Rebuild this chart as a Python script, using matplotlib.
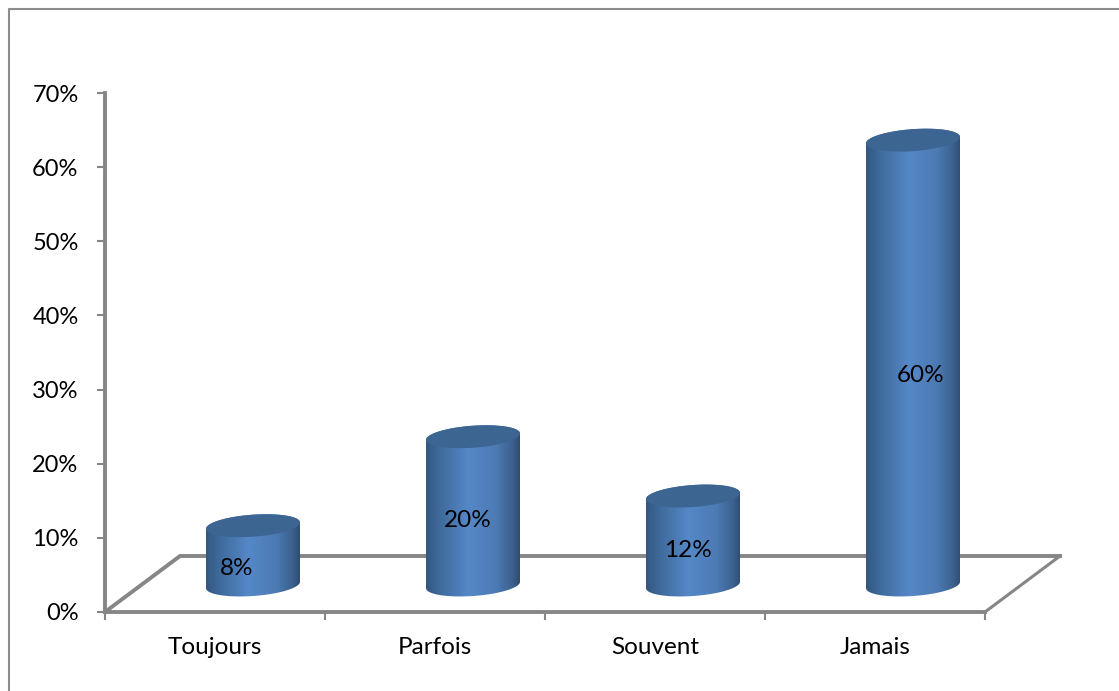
import numpy as np
import matplotlib
matplotlib.use('Agg')
import matplotlib.pyplot as plt
from matplotlib.colors import LinearSegmentedColormap
from matplotlib.lines import Line2D
from matplotlib.patches import Polygon

categories = ['Toujours', 'Parfois', 'Souvent', 'Jamais']
values = [8, 20, 12, 60]
y_ticks = [0, 10, 20, 30, 40, 50, 60, 70]

W, H = 1119, 691
GREY = '#868686'
plt.rcParams['font.family'] = ['Lato', 'DejaVu Sans']

fig = plt.figure(figsize=(W / 100, H / 100), dpi=100)
ax = fig.add_axes([105 / W, 1 - 612 / H, 880 / W, 519 / H])
ax.set_xlim(0, 4)
ax.set_ylim(0, 70)

# size of one pixel in data units
px = 4 / 880
py = 70 / 519

# outer frame, only left and top show up in the picture
fig.add_artist(Line2D([8.5 / W, 8.5 / W, 1], [0, 1 - 8.5 / H, 1 - 8.5 / H], color='#8c8c8c', lw=1.5))

# floor of the 3d box
dx, dy = 75 * px, 56 * py
ax.plot([0, dx, 4 + dx], [0, dy, dy], color=GREY, lw=2.8, clip_on=False, zorder=1,
        solid_joinstyle='miter')
ax.plot([4 + dx, 4], [dy, 0], color=GREY, lw=2.2, clip_on=False, zorder=1)

cmap = LinearSegmentedColormap.from_list('cyl', [
    (0, '#345781'), (0.15, '#3f6b9c'), (0.45, '#5588c8'),
    (0.75, '#4c7ab3'), (0.92, '#3c618e'), (1, '#2f4c70')])
grad = np.linspace(0, 1, 256).reshape(1, -1)

rx, ry, slope = 47, 11, 0.068
t = np.linspace(0, 2 * np.pi, 120)
t_low = np.linspace(np.pi, 2 * np.pi, 60)
t_up = np.linspace(0, np.pi, 60)
label_dx = [-16, -5, -5, 8]
label_dy = [-3, 0, 0, -3]

for i, v in enumerate(values):
    cx = i + 0.5 + 38 * px
    base = 27 * py
    top = base + v
    # cylinder body: lower half of the base ellipse, then the upper half at the top
    bx = cx + rx * np.cos(t_low) * px
    by = base + (ry * np.sin(t_low) + slope * rx * np.cos(t_low)) * py
    ux = cx + rx * np.cos(t_up) * px
    uy = top + (ry * np.sin(t_up) + slope * rx * np.cos(t_up)) * py
    body = Polygon(np.column_stack([np.r_[bx, ux], np.r_[by, uy]]), closed=True,
                   transform=ax.transData, fc='none', ec='none')
    ax.add_patch(body)
    im = ax.imshow(grad, cmap=cmap, aspect='auto', zorder=2,
                   extent=[cx - rx * px, cx + rx * px, 0, top + 2 * ry * py])
    im.set_clip_path(body)
    # top cap
    tx = cx + rx * np.cos(t) * px
    ty = top + (ry * np.sin(t) + slope * rx * np.cos(t)) * py
    ax.fill(tx, ty, color='#3c6592', lw=0, zorder=3)
    ax.text(cx + label_dx[i] * px, base + v / 2 + (label_dy[i] - 10) * py, f'{v}%', ha='center',
            va='center', fontsize=17.5, color='black', zorder=4)

ax.set_xlim(0, 4)
ax.set_ylim(0, 70)

for s in ['top', 'right']:
    ax.spines[s].set_visible(False)
for s in ['left', 'bottom']:
    ax.spines[s].set_color(GREY)
    ax.spines[s].set_linewidth(2.8)

ax.set_yticks(y_ticks)
ax.set_yticklabels([f'{y}%' for y in y_ticks], fontsize=17)
ax.set_xticks(range(5))
ax.set_xticklabels([])
ax.set_xticks(np.arange(4) + 0.5, minor=True)
ax.set_xticklabels(categories, minor=True, fontsize=17.5)
ax.tick_params(axis='both', which='major', color=GREY, width=1.5, length=6)
ax.tick_params(axis='y', pad=13)
ax.tick_params(axis='x', which='minor', length=0, pad=18)

fig.savefig('out.png', dpi=100, facecolor='white')
